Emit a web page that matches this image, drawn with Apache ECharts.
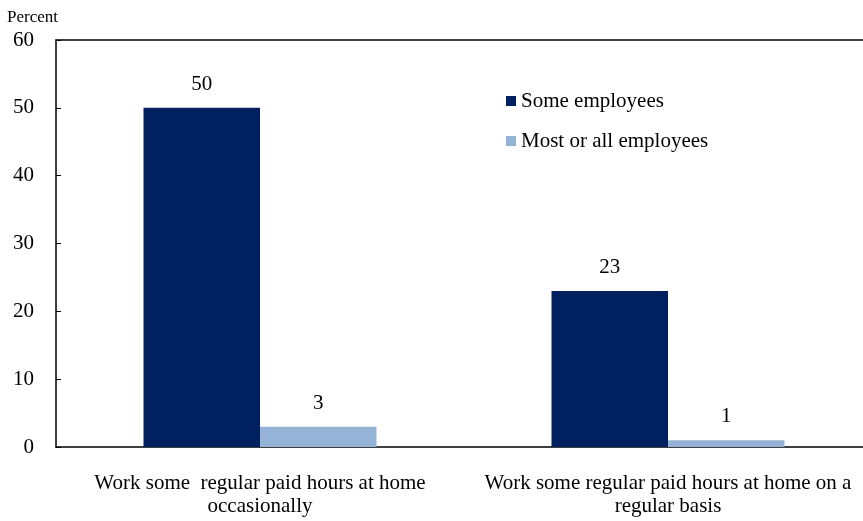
<!DOCTYPE html>
<html>
<head>
<meta charset="utf-8">
<script src="https://cdn.jsdelivr.net/npm/echarts@6/dist/echarts.min.js"></script>
<style>html,body{margin:0;padding:0;background:#fff}#c{width:863px;height:521px}</style>
</head>
<body>
<div id="c"></div>
<script>
const categories = ["Work some  regular paid hours at home\noccasionally", "Work some regular paid hours at home on a\nregular basis"];
const someEmployees = [50, 23];
const mostOrAllEmployees = [3, 1];
const seriesNames = ["Some employees", "Most or all employees"];
const yTicks = {min: 0, max: 60, interval: 10};

const FONT = "'Liberation Serif', 'Times New Roman', serif";
const chart = echarts.init(document.getElementById('c'), null, {renderer: 'canvas'});
chart.setOption({
  animation: false,
  backgroundColor: '#fff',
  title: {text: 'Percent', left: 2, top: 4, textStyle: {fontFamily: FONT, fontSize: 17, fontWeight: 'normal', color: '#000'}},
  legend: {
    orient: 'vertical', left: 501, top: 85, itemWidth: 10, itemHeight: 10, itemGap: 18, icon: 'rect',
    textStyle: {fontFamily: FONT, fontSize: 21, color: '#000', lineHeight: 22},
    data: seriesNames
  },
  grid: {left: 56, width: 816, top: 40, bottom: 74, outerBoundsMode: 'none', containLabel: false},
  xAxis: [{
    type: 'category', data: categories,
    axisLine: {lineStyle: {color: '#000', width: 1.5}},
    axisTick: {show: false},
    axisLabel: {fontFamily: FONT, fontSize: 21, color: '#000', margin: 25, lineHeight: 23, interval: 0}
  }, {
    type: 'category', data: categories, position: 'top',
    axisLine: {lineStyle: {color: '#000', width: 1.5}},
    axisTick: {show: false}, axisLabel: {show: false}
  }],
  yAxis: {
    type: 'value', min: yTicks.min, max: yTicks.max, interval: yTicks.interval,
    axisLine: {show: true, lineStyle: {color: '#000', width: 1.5}},
    axisTick: {show: true, inside: true, length: 5, lineStyle: {color: '#000'}},
    splitLine: {show: false},
    axisLabel: {fontFamily: FONT, fontSize: 21, color: '#000', margin: 22}
  },
  series: [{
    name: seriesNames[0], type: 'bar', data: someEmployees, barWidth: 116.5, barGap: '0%',
    itemStyle: {color: '#002060'},
    label: {show: true, position: 'top', distance: 13, fontFamily: FONT, fontSize: 21, color: '#000'}
  }, {
    name: seriesNames[1], type: 'bar', data: mostOrAllEmployees, barWidth: 116.5, barGap: '0%',
    itemStyle: {color: '#95B3D7'},
    label: {show: true, position: 'top', distance: 13, fontFamily: FONT, fontSize: 21, color: '#000'}
  }]
});
</script>
</body>
</html>
